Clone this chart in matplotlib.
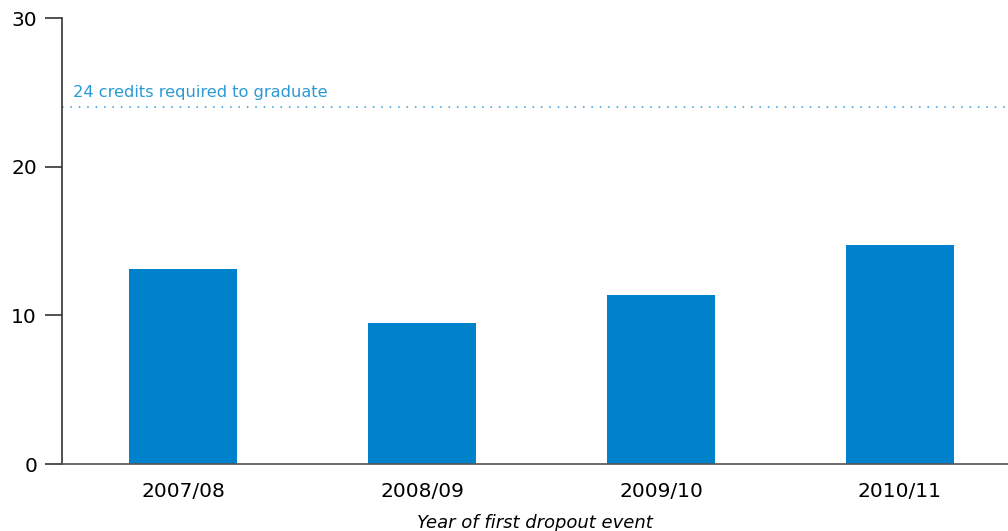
import matplotlib.pyplot as plt

# Average credits earned before first dropout, by school year
years = ['2007/08', '2008/09', '2009/10', '2010/11']
credits = [13.1, 9.5, 11.4, 14.7]
required_credits = 24

bar_color = '#0081CB'
line_color = '#2A9AD5'

plt.rcParams['font.family'] = ['DejaVu Sans']

fig = plt.figure(figsize=(10.08, 5.31), dpi=100)
ax = fig.add_axes([62 / 1008, 67 / 531, 1 - 62 / 1008, 446 / 531])

ax.bar(range(len(years)), credits, width=0.452, color=bar_color, zorder=2)

# Graduation threshold
ax.axhline(required_credits, color=line_color, linestyle=(0, (1, 4.5)), linewidth=1.1)
ax.text(-0.46, required_credits + 0.5, '24 credits required to graduate',
        color=line_color, fontsize=11.7, ha='left', va='bottom')

ax.set_ylim(0, 30)
ax.set_xlim(-0.506, 3.452)
ax.set_yticks([0, 10, 20, 30])
ax.set_xticks(range(len(years)))
ax.set_xticklabels(years)

for side in ['top', 'right']:
    ax.spines[side].set_visible(False)
ax.spines['left'].set_color('#333333')
ax.spines['bottom'].set_color('#555555')
ax.spines['left'].set_linewidth(1.2)
ax.spines['bottom'].set_linewidth(1.2)

ax.tick_params(axis='y', length=12, width=1.2, color='#333333', pad=6, labelsize=14.5)
ax.tick_params(axis='x', length=0, pad=13, labelsize=14.5)

ax.set_xlabel('Year of first dropout event', fontsize=13, fontstyle='italic', labelpad=9)

fig.savefig('out.png', dpi=100)
